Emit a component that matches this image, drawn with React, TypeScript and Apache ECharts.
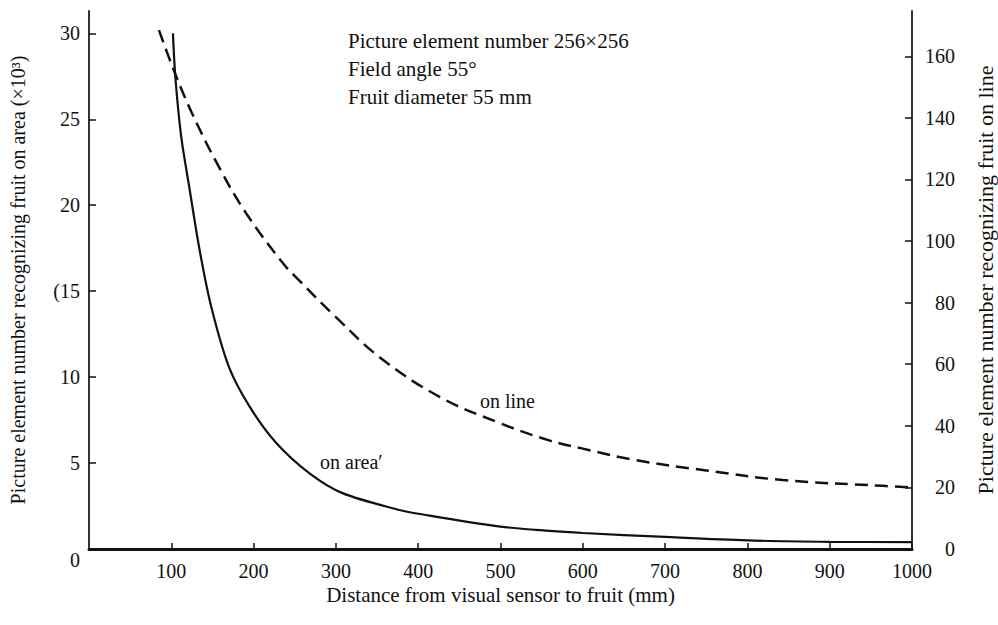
import React, { useEffect, useRef } from "react";
import * as echarts from "echarts";

// Distance from visual sensor to fruit (mm) vs picture element number on area (x10^3)
const areaDistance = [102, 105, 112, 122, 134, 148, 170, 195, 227, 268, 308, 377, 400, 500, 560, 600, 700, 800, 900, 1000];
const areaValues = [30, 27.4, 24, 21, 17.5, 14.2, 10.6, 8.3, 6.2, 4.4, 3.25, 2.27, 2.05, 1.3, 1.05, 0.93, 0.7, 0.5, 0.42, 0.4];

// Distance vs picture element number on line
const lineDistance = [85, 103, 125, 158, 191, 235, 255, 300, 353, 426, 499, 560, 600, 661, 750, 843, 965, 1000];
const lineValues = [168.5, 155.5, 141.6, 124, 109, 93, 87.3, 75.3, 62.3, 49.4, 40.9, 35.2, 32.6, 29, 25.5, 22.4, 20.5, 20];

const xTicks = [100, 200, 300, 400, 500, 600, 700, 800, 900, 1000];
const leftTicks = [0, 5, 10, 15, 20, 25, 30];
const rightTicks = [0, 20, 40, 60, 80, 100, 120, 140, 160];

const infoLines = ["Picture element number 256\u00d7256", "Field angle 55\u00b0", "Fruit diameter 55 mm"];
const FONT = "'Liberation Serif', 'DejaVu Serif', serif";
const INK = "#111";

export default function App() {
  const ref = useRef<HTMLDivElement>(null);
  useEffect(() => {
    if (!ref.current) return;
    const chart = echarts.init(ref.current, undefined, { renderer: "svg" });
    const areaData = areaDistance.map((d, i) => [d, areaValues[i]]);
    const lineData = lineDistance.map((d, i) => [d, lineValues[i]]);
    chart.setOption({
      animation: false,
      backgroundColor: "#fff",
      textStyle: { fontFamily: FONT, color: INK },
      grid: { left: 89, right: 86, top: 11, bottom: 76, containLabel: false, outerBoundsMode: "none" },
      xAxis: {
        type: "value",
        min: 0,
        max: 1000,
        interval: 100,
        name: "Distance from visual sensor to fruit (mm)",
        nameLocation: "middle",
        nameGap: 35,
        nameMoveOverlap: false,
        nameTextStyle: { fontFamily: FONT, fontSize: 21, color: INK },
        axisLine: { show: true, lineStyle: { color: INK, width: 3 } },
        axisTick: { show: true, inside: true, length: 6, lineStyle: { color: INK, width: 1.5 }, customValues: xTicks },
        axisLabel: {
          fontFamily: FONT, fontSize: 20, color: INK, margin: 12,
          customValues: xTicks,
          formatter: (v: number) => String(v),
        },
        splitLine: { show: false },
      },
      yAxis: [
        {
          type: "value",
          position: "left",
          min: 0,
          max: 31.3,
          name: "Picture element number recognizing fruit on area (\u00d710\u00b3)",
          nameLocation: "middle",
          nameGap: 61,
          nameRotate: 90,
          nameTextStyle: { fontFamily: FONT, fontSize: 20, color: INK },
          axisLine: { show: true, lineStyle: { color: "#333", width: 2 } },
          axisTick: { show: true, inside: true, length: 7, lineStyle: { color: INK, width: 1.5 }, customValues: leftTicks },
          axisLabel: {
            fontFamily: FONT, fontSize: 20, color: INK, margin: 9,
            customValues: leftTicks,
            formatter: (v: number) => (v === 0 ? "{z|0}" : v === 15 ? "(15" : String(v)),
            rich: { z: { fontFamily: FONT, fontSize: 20, color: INK, padding: [22, 0, 0, 0] } },
          },
          splitLine: { show: false },
        },
        {
          type: "value",
          position: "right",
          min: 0,
          max: 174.7,
          name: "Picture element number recognizing fruit on line",
          nameLocation: "middle",
          nameGap: 62,
          nameRotate: 90,
          nameTextStyle: { fontFamily: FONT, fontSize: 22, color: INK },
          axisLine: { show: true, lineStyle: { color: "#333", width: 2 } },
          axisTick: { show: true, inside: true, length: 7, lineStyle: { color: INK, width: 1.5 }, customValues: rightTicks },
          axisLabel: {
            fontFamily: FONT, fontSize: 20, color: INK, margin: 43, align: "right",
            customValues: rightTicks,
          },
          splitLine: { show: false },
        },
      ],
      series: [
        {
          name: "on area",
          type: "line",
          yAxisIndex: 0,
          data: areaData,
          smooth: 0.3,
          showSymbol: false,
          lineStyle: { color: INK, width: 2.2, type: "solid" },
        },
        {
          name: "on line",
          type: "line",
          yAxisIndex: 1,
          data: lineData,
          smooth: 0.4,
          showSymbol: false,
          lineStyle: { color: INK, width: 2.5, type: [13, 7] },
        },
      ],
      graphic: [
        ...infoLines.map((t, i) => ({
          type: "text",
          x: 348,
          y: 41 + i * 28,
          style: { text: t, font: `21px ${FONT}`, fill: INK, textVerticalAlign: "middle" },
        })),
        {
          type: "text",
          x: 480,
          y: 401,
          style: { text: "on line", font: `20px ${FONT}`, fill: INK, textVerticalAlign: "middle" },
        },
        {
          type: "text",
          x: 320,
          y: 462,
          style: { text: "on area\u2032", font: `20px ${FONT}`, fill: INK, textVerticalAlign: "middle" },
        },
      ],
    });
    return () => chart.dispose();
  }, []);
  return <div ref={ref} style={{ width: 998, height: 625, position: "fixed", left: 0, top: 0 }} />;
}
